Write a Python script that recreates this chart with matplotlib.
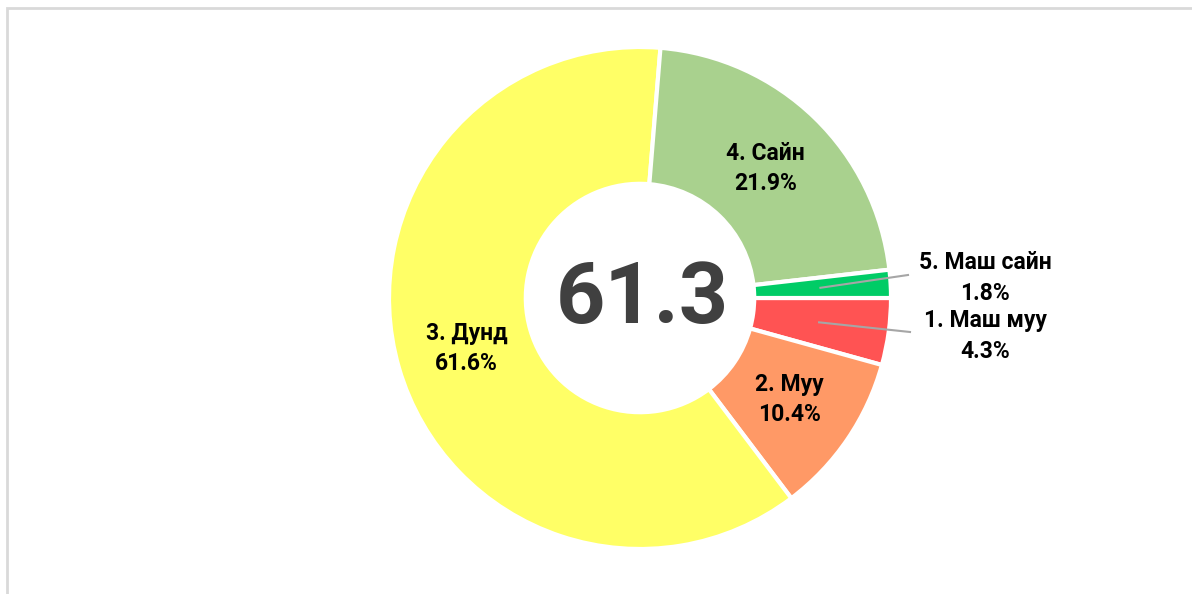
import numpy as np
import matplotlib

matplotlib.use("Agg")
import matplotlib.pyplot as plt
from matplotlib.patches import Rectangle

# order as drawn: clockwise from 3 o'clock
labels = ["1. Маш муу", "2. Муу", "3. Дунд", "4. Сайн", "5. Маш сайн"]
shares = [4.3, 10.4, 61.6, 21.9, 1.8]
colors = ["#FF5353", "#FF9966", "#FFFF66", "#A9D18E", "#00CC66"]
center_value = "61.3"

plt.rcParams["font.family"] = ["Roboto", "DejaVu Sans"]

W, H = 1192, 594
fig = plt.figure(figsize=(W / 100, H / 100), dpi=100)
ax = fig.add_axes([0, 0, 1, 1])
R = 251
cx, cy = 640, 296

wedges, _ = ax.pie(
    shares, colors=colors, startangle=0, counterclock=False, radius=R,
    center=(cx, cy), wedgeprops=dict(width=R * 0.545, edgecolor="white", linewidth=3),
)
ax.set_xlim(0, W)
ax.set_ylim(0, H)
ax.set_aspect("equal")
ax.axis("off")

# figure frame (top and left edges only visible)
fig.add_artist(Rectangle((6.5 / W, -0.01), 1.1, (H - 7.5) / H + 0.01, transform=fig.transFigure,
                         fill=False, edgecolor="#d9d9d9", linewidth=2))

ax.text(cx + 2, cy - 2, center_value, ha="center", va="center", fontsize=62,
        fontweight="bold", color="#404040")

# small slices get labels outside with leader lines
outside = {"5. Маш сайн": (345, 20, 268, 23), "1. Маш муу": (345, -38, 270, -34)}
for w, lab, val in zip(wedges, labels, shares):
    mid = np.deg2rad((w.theta1 + w.theta2) / 2)
    px, py = cx + 0.72 * R * np.cos(mid), cy + 0.72 * R * np.sin(mid)
    text = f"{lab}\n{val:.1f}%"
    if lab in outside:
        tx, ty, lx, ly = outside[lab]
        ax.plot([px, cx + lx], [py, cy + ly], color="#a6a6a6", lw=1.5)
        ax.text(cx + tx, cy + ty, text, ha="center", va="center", fontsize=16.5,
                fontweight="bold", linespacing=1.4, color="black")
    else:
        ax.text(px, py, text, ha="center", va="center", fontsize=16.5,
                fontweight="bold", linespacing=1.4, color="black")

fig.savefig("out.png", dpi=100)
